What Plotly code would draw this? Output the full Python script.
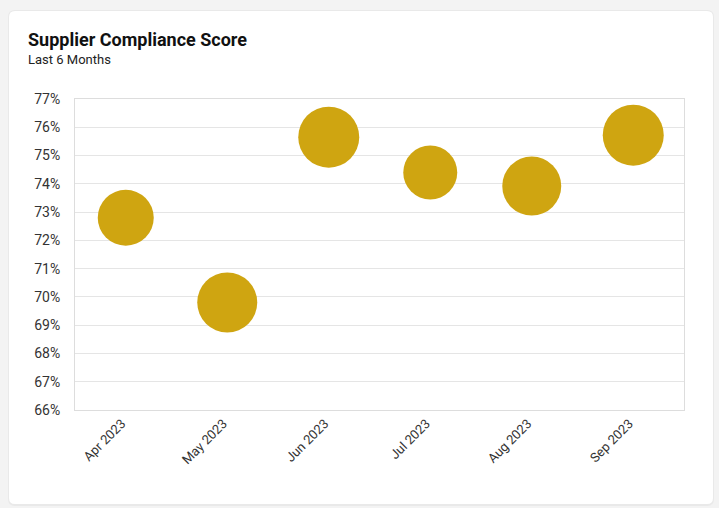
import plotly.graph_objects as go

months = ["Apr 2023", "May 2023", "Jun 2023", "Jul 2023", "Aug 2023", "Sep 2023"]
scores = [72.8, 69.8, 75.65, 74.4, 73.92, 75.72]
bubble_size = [56, 60, 61, 54, 59, 61]
y_ticks = list(range(66, 78))

W, H = 719, 508
L, R, T, B = 75, 684, 99, 410  # plot area pixel box
pw, ph = R - L, B - T

def px(x):
    return (x - L) / pw

def py(y):
    return (B - y) / ph

def rounded(x0, y0, x1, y1, r):
    X0, X1 = px(x0), px(x1)
    Y0, Y1 = py(y0), py(y1)
    rx, ry = r / pw, r / ph
    return (f"M {X0+rx},{Y0} L {X1-rx},{Y0} Q {X1},{Y0} {X1},{Y0-ry} "
            f"L {X1},{Y1+ry} Q {X1},{Y1} {X1-rx},{Y1} L {X0+rx},{Y1} "
            f"Q {X0},{Y1} {X0},{Y1+ry} L {X0},{Y0-ry} Q {X0},{Y0} {X0+rx},{Y0} Z")

fig = go.Figure()
fig.add_trace(go.Scatter(
    x=months, y=scores, mode="markers",
    marker=dict(size=bubble_size, sizemode="diameter", color="#CFA511",
                line=dict(width=0), opacity=1),
    hovertemplate="%{x}: %{y}%<extra></extra>",
))

shapes = [
    dict(type="path", xref="paper", yref="paper", layer="below",
         path=rounded(8, 10, 714, 506, 7), fillcolor="#e9e9e9", line=dict(width=0)),
    dict(type="path", xref="paper", yref="paper", layer="below",
         path=rounded(9, 11, 713, 504, 6), fillcolor="#ffffff", line=dict(width=0)),
]

fig.update_layout(
    width=W, height=H,
    margin=dict(l=L, r=W - R, t=T, b=H - B, pad=0),
    paper_bgcolor="#f3f3f3",
    plot_bgcolor="#ffffff",
    font=dict(family="Roboto", size=13, color="#333333"),
    showlegend=False,
    shapes=shapes,
    annotations=[
        dict(text="<b>Supplier Compliance Score</b>", xref="paper", yref="paper",
             x=px(26), y=py(40), xanchor="left", yanchor="middle", showarrow=False,
             font=dict(family="Roboto", size=18, color="#111111")),
        dict(text="Last 6 Months", xref="paper", yref="paper",
             x=px(26), y=py(60), xanchor="left", yanchor="middle", showarrow=False,
             font=dict(family="Roboto", size=13, color="#222222")),
    ],
    xaxis=dict(
        type="category", range=[-0.5, 5.5], tickangle=-45,
        showgrid=False, showline=True, linecolor="#dddddd", linewidth=1, mirror=True,
        ticks="", zeroline=False, tickfont=dict(size=13, color="#333333"),
        ticklabelshift=-4,
    ),
    yaxis=dict(
        range=[66, 77], tickvals=y_ticks, ticktext=[f"{v}%" for v in y_ticks],
        showgrid=True, gridcolor="#e5e5e5", gridwidth=1,
        showline=True, linecolor="#dddddd", linewidth=1, mirror=True,
        zeroline=False, ticks="", ticklabelstandoff=11,
        tickfont=dict(size=14, color="#333333"),
    ),
)

fig.write_html("out.html", config={"displayModeBar": False},
               post_script="document.body.style.margin='0';document.body.style.background='#f3f3f3';")
